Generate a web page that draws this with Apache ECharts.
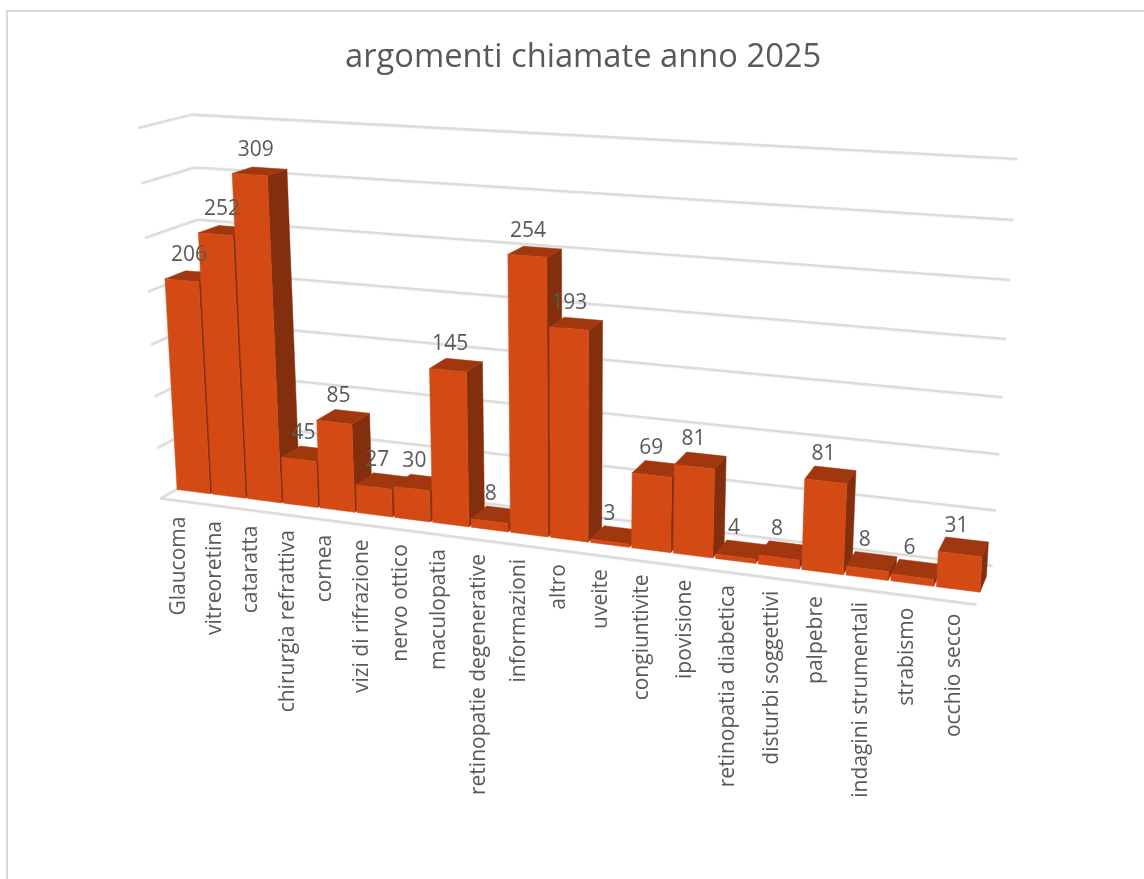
<!DOCTYPE html>
<html>
<head>
<meta charset="utf-8">
<style>html,body{margin:0;padding:0;background:#fff}#chart{width:1144px;height:879px}</style>
<script src="https://cdn.jsdelivr.net/npm/echarts@6/dist/echarts.min.js"></script>
</head>
<body>
<div id="chart"></div>
<script>
const categories = ['Glaucoma','vitreoretina','cataratta','chirurgia refrattiva','cornea','vizi di rifrazione','nervo ottico','maculopatia','retinopatie degenerative','informazioni','altro','uveite','congiuntivite','ipovisione','retinopatia diabetica','disturbi soggettivi','palpebre','indagini strumentali','strabismo','occhio secco'];
const calls = [206,252,309,45,85,27,30,145,8,254,193,3,69,81,4,8,81,8,6,31];
const valueTicks = [0,50,100,150,200,250,300,350];
const chartTitle = 'argomenti chiamate anno 2025';

// Camera matrix of the 3D view, taking unit-cube coordinates to page pixels
const P = [679.994,-29.290,59.467,160.611, 22.039,-377.063,-7.442,498.427, -0.139,-0.051,0.046];
function project(u,v,w){
  const d=P[8]*u+P[9]*v+P[10]*w+1;
  return [(P[0]*u+P[1]*v+P[2]*w+P[3])/d,(P[4]*u+P[5]*v+P[6]*w+P[7])/d];
}
// Read a data point through the cartesian scales, as unit-cube coordinates
function toUnit(params,api,cat,val,offset){
  const cs=params.coordSys;
  const c=api.coord([cat,val]);
  const band=cs.width/categories.length;
  return [(c[0]+offset*band-cs.x)/cs.width,(cs.y+cs.height-c[1])/cs.height];
}
const FONT='Open Sans', TEXT='#595959';
const gridStyle={stroke:'#DCDCDC',lineWidth:2.3,fill:null,lineJoin:'round',shadowColor:'rgba(0,0,0,0.10)',shadowBlur:1.5,shadowOffsetY:0.5};
const option={
  animation:false,
  backgroundColor:'#fff',
  title:{text:chartTitle,left:340,top:36,textStyle:{fontFamily:FONT,fontWeight:'normal',fontSize:32.7,color:TEXT}},
  grid:{left:100,top:100,right:100,bottom:100},
  xAxis:{type:'category',data:categories,show:false},
  yAxis:{type:'value',min:0,max:350,interval:50,show:false},
  graphic:[{type:'rect',z:-1,shape:{x:7,y:11,width:1200,height:900},style:{fill:null,stroke:'#D9D9D9',lineWidth:2}}],
  series:[
   {type:'custom',coordinateSystem:'cartesian2d',silent:true,clip:false,z:1,data:valueTicks.map(v=>[0,v]),
    renderItem(params,api){
      const val=api.value(1);
      const a=toUnit(params,api,0,val,-0.5), b=toUnit(params,api,categories.length-1,val,0.5);
      const pts=[project(a[0],a[1],0),project(a[0],a[1],1),project(b[0],b[1],1)];
      const children=[{type:'polyline',shape:{points:pts},style:gridStyle}];
      if(val===0) children.push({type:'polyline',shape:{points:[project(a[0],a[1],0),project(b[0],b[1],0)]},style:gridStyle});
      return {type:'group',children};
    }},
   {type:'custom',coordinateSystem:'cartesian2d',silent:true,clip:false,z:2,data:calls.map((v,i)=>[i,v]),
    renderItem(params,api){
      const i=api.value(0),val=api.value(1);
      const gap=0.03,w0=0.3,w1=0.7;
      const lo=toUnit(params,api,i,0,-0.5+gap), hi=toUnit(params,api,i,val,0.5-gap);
      const u0=lo[0],u1=hi[0],v0=lo[1],v1=hi[1];
      const quad=(pts,fill)=>({type:'polygon',shape:{points:pts},style:{fill,stroke:fill,lineWidth:0.5}});
      return {type:'group',children:[
        quad([project(u1,v0,w0),project(u1,v0,w1),project(u1,v1,w1),project(u1,v1,w0)],'#832E0C'),
        quad([project(u0,v1,w0),project(u1,v1,w0),project(u1,v1,w1),project(u0,v1,w1)],'#A0370F'),
        quad([project(u0,v0,w0),project(u1,v0,w0),project(u1,v1,w0),project(u0,v1,w0)],'#D44A15')
      ]};
    }},
   {type:'custom',coordinateSystem:'cartesian2d',silent:true,clip:false,z:3,data:calls.map((v,i)=>[i,v]),
    renderItem(params,api){
      const i=api.value(0),val=api.value(1);
      const t=toUnit(params,api,i,val,0), f=toUnit(params,api,i,0,0);
      const top=project(t[0],t[1],0.5), foot=project(f[0],f[1],0);
      const nudge=-3-4*Math.min(2*t[0],1);
      return {type:'group',children:[
        {type:'text',x:top[0]+nudge,y:top[1]-21,style:{text:String(calls[i]),align:'center',verticalAlign:'middle',fontFamily:FONT,fontSize:21,fill:TEXT}},
        {type:'text',x:foot[0]+1,y:foot[1]+16-4*f[0],rotation:Math.PI/2,style:{text:categories[i],align:'right',verticalAlign:'middle',fontFamily:FONT,fontSize:21,fill:TEXT}}
      ]};
    }}
  ]
};
echarts.init(document.getElementById('chart'),null,{renderer:'canvas'}).setOption(option);
</script>
</body>
</html>
